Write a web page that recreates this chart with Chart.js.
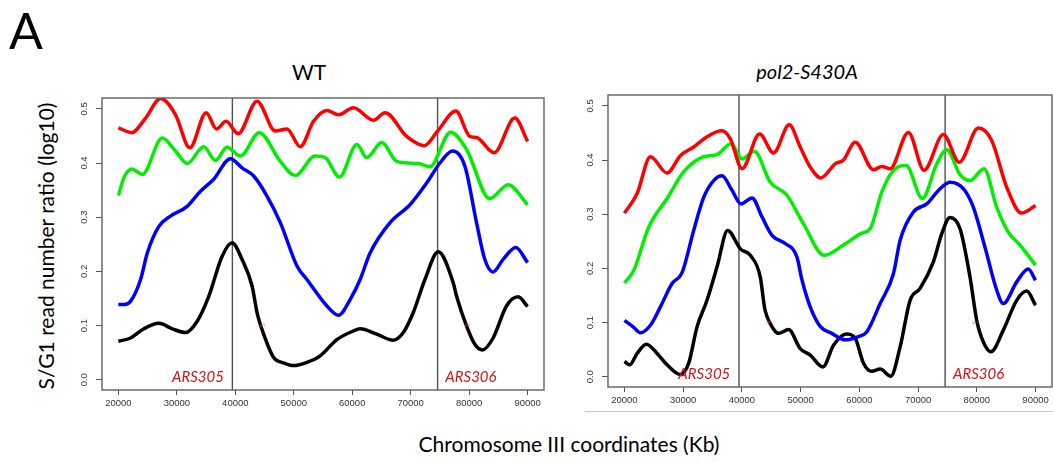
<!DOCTYPE html>
<html>
<head>
<meta charset="utf-8">
<title>S/G1 ratio, chromosome III</title>
<script src="https://cdn.jsdelivr.net/npm/chart.js@4.4.1/dist/chart.umd.min.js"></script>
<style>
  body { margin: 0; background: #fff; }
  #page { position: relative; width: 1053px; height: 462px; overflow: hidden; background: #fff; }
  #page canvas { position: absolute; }
  #wt { left: 60px; top: 90px; }
  #mut { left: 566px; top: 87px; }
  .lbl { position: absolute; white-space: nowrap; color: #000; font-family: Lato, "Open Sans", sans-serif;
         transform: translate(-50%, -50%); line-height: 1; }
  #panel-letter { left: 26px; top: 30px; font-size: 50px; }
  #title-wt { left: 309px; top: 71px; font-size: 21px; }
  #title-mut { left: 807px; top: 71px; font-size: 20px; font-style: italic; }
  #ylab { left: 45px; top: 246px; font-size: 21px; transform: translate(-50%, -50%) rotate(-90deg); }
  #xlab { left: 569px; top: 443px; font-size: 21px; }
  #rule { position: absolute; left: 585px; top: 411px; width: 468px; height: 0; border-top: 1px solid #c8c8c8; }
</style>
</head>
<body>
<div id="page">
  <div class="lbl" id="panel-letter">A</div>
  <div class="lbl" id="title-wt">WT</div>
  <div class="lbl" id="title-mut">pol2-S430A</div>
  <div class="lbl" id="ylab">S/G1 read number ratio (log10)</div>
  <div class="lbl" id="xlab">Chromosome III coordinates (Kb)</div>
  <div id="rule"></div>
  <canvas id="wt" width="500" height="330"></canvas>
  <canvas id="mut" width="487" height="330"></canvas>
</div>
<script>
// axis ticks and origin annotations (chromosome III coordinates, bp)
const xTicks = [20000, 30000, 40000, 50000, 60000, 70000, 80000, 90000];
const yTicks = [0, 0.1, 0.2, 0.3, 0.4, 0.5];
const arsNames = ["ARS305", "ARS306"];
const arsPos = [39500, 74600];
const arsLabelX = [33600, 80300];
const oriTagX = [44600, 79700];

// WT smoothed S/G1 ratios, [coordinate, log10 ratio]
const wtRed = [[20000,0.465],[22270,0.456],[24660,0.483],[27220,0.519],[29780,0.489],[32220,0.428],[35020,0.493],[36770,0.463],[38430,0.477],[40480,0.454],[43720,0.514],[46840,0.459],[48840,0.463],[51110,0.430],[53380,0.477],[55670,0.497],[57650,0.489],[60210,0.502],[63620,0.479],[65620,0.493],[69320,0.449],[72320,0.432],[74610,0.459],[77730,0.496],[80120,0.449],[81260,0.447],[84270,0.419],[87800,0.483],[90000,0.440]];
const wtGreen = [[20000,0.340],[20960,0.373],[22270,0.389],[24100,0.379],[27510,0.446],[29780,0.422],[31770,0.399],[34610,0.430],[36600,0.405],[38600,0.429],[40870,0.413],[44110,0.456],[47700,0.403],[50260,0.377],[53670,0.413],[55380,0.410],[57820,0.374],[60790,0.434],[62490,0.410],[65050,0.438],[67610,0.403],[71300,0.399],[73290,0.393],[76830,0.457],[79560,0.425],[83530,0.334],[86660,0.360],[90000,0.323]];
const wtBlue = [[20000,0.139],[21000,0.139],[22100,0.145],[23800,0.185],[24950,0.234],[26930,0.283],[28920,0.302],[31770,0.320],[34040,0.348],[36310,0.370],[39160,0.408],[41160,0.391],[43140,0.376],[45420,0.339],[47700,0.290],[50550,0.210],[52250,0.185],[55670,0.136],[57650,0.119],[59640,0.148],[61350,0.185],[63050,0.234],[66470,0.290],[69880,0.323],[72730,0.363],[75000,0.400],[77170,0.422],[79270,0.394],[81260,0.290],[82680,0.222],[84100,0.199],[85800,0.222],[87970,0.244],[90000,0.216]];
const wtBlack = [[20000,0.071],[22100,0.077],[24370,0.094],[26930,0.104],[29220,0.094],[31480,0.087],[33480,0.108],[35460,0.154],[37750,0.228],[39450,0.253],[41160,0.222],[42870,0.173],[43720,0.124],[44850,0.084],[46550,0.041],[48260,0.031],[49970,0.026],[52250,0.032],[54520,0.044],[57370,0.074],[60210,0.090],[61350,0.094],[64200,0.084],[67030,0.073],[68740,0.087],[70440,0.124],[72440,0.185],[74710,0.236],[77270,0.179],[77850,0.154],[79560,0.099],[81000,0.065],[82290,0.055],[84100,0.077],[86380,0.136],[88360,0.153],[90000,0.135]];

// pol2-S430A smoothed S/G1 ratios
const mutRed = [[20000,0.302],[22160,0.338],[24420,0.406],[27260,0.376],[29520,0.408],[31790,0.424],[34060,0.443],[36610,0.454],[38030,0.439],[40020,0.384],[43010,0.448],[45390,0.413],[48060,0.465],[49930,0.424],[51630,0.387],[53450,0.367],[55880,0.393],[57300,0.400],[59290,0.433],[62400,0.382],[63830,0.388],[65240,0.384],[68350,0.451],[71020,0.381],[74300,0.447],[77020,0.396],[80260,0.459],[82530,0.436],[85080,0.350],[87630,0.302],[90000,0.316]];
const mutGreen = [[20000,0.173],[21580,0.196],[24130,0.276],[27260,0.329],[30090,0.378],[33490,0.406],[35770,0.410],[38150,0.430],[40020,0.402],[42110,0.416],[44830,0.359],[47670,0.335],[50490,0.282],[54010,0.224],[57300,0.243],[60430,0.265],[61840,0.273],[63830,0.341],[65800,0.381],[67960,0.390],[70730,0.329],[73180,0.393],[74880,0.419],[77140,0.373],[78840,0.362],[81220,0.384],[83380,0.313],[85350,0.267],[87350,0.243],[90000,0.206]];
const mutBlue = [[20000,0.104],[21580,0.091],[22720,0.081],[24420,0.095],[26120,0.129],[28110,0.172],[29810,0.192],[31790,0.270],[33490,0.331],[35190,0.362],[36610,0.371],[38320,0.344],[39850,0.319],[41720,0.330],[43420,0.295],[45120,0.261],[47380,0.246],[49370,0.221],[50200,0.180],[51630,0.129],[53330,0.093],[55320,0.080],[57580,0.068],[59850,0.074],[61280,0.083],[63540,0.135],[65800,0.190],[66940,0.252],[69200,0.304],[71480,0.319],[73740,0.347],[75440,0.359],[77700,0.347],[79400,0.313],[81390,0.239],[83380,0.160],[84510,0.135],[86790,0.175],[88760,0.199],[90000,0.178]];
const mutBlack = [[20000,0.028],[20900,0.022],[22160,0.043],[23740,0.060],[25560,0.043],[27260,0.022],[29520,0.004],[30940,0.025],[32360,0.092],[34060,0.141],[35770,0.203],[37570,0.270],[39730,0.236],[41430,0.224],[43130,0.184],[43900,0.125],[44830,0.098],[46240,0.080],[47940,0.087],[49930,0.052],[51630,0.040],[53790,0.018],[55600,0.058],[57760,0.079],[59290,0.071],[60700,0.025],[62130,0.010],[63540,0.014],[65360,0.001],[66940,0.055],[68640,0.141],[70340,0.163],[72600,0.212],[74030,0.264],[75440,0.294],[77140,0.273],[78840,0.184],[79980,0.104],[81110,0.064],[82410,0.046],[84510,0.086],[86790,0.141],[88490,0.158],[90000,0.132]];

const lineColors = ["#ff0000", "#00ee00", "#0000ff", "#000000"];
const tickFont = { family: "'Liberation Sans', Arial, sans-serif", size: 9.5 };

// box, ARS lines, ARS names, rotated y tick labels
const panelDecor = {
  id: "panelDecor",
  beforeDatasetsDraw(chart) {
    const { ctx, chartArea: a, scales: { x } } = chart;
    ctx.save();
    ctx.strokeStyle = "#505050";
    ctx.lineWidth = 1.4;
    arsPos.forEach((p) => {
      const px = x.getPixelForValue(p);
      ctx.beginPath();
      ctx.moveTo(px, a.top);
      ctx.lineTo(px, a.bottom);
      ctx.stroke();
    });
    ctx.restore();
  },
  afterDatasetsDraw(chart) {
    const { ctx, scales: { x, y } } = chart;
    ctx.save();
    ctx.fillStyle = "#d01414";
    ctx.font = "italic 15px Lato, 'Open Sans', sans-serif";
    ctx.textAlign = "center";
    ctx.textBaseline = "middle";
    arsNames.forEach((name, i) => {
      ctx.fillText(name, x.getPixelForValue(arsLabelX[i]), y.getPixelForValue(0.005));
    });
    ctx.fillStyle = "rgba(220, 80, 120, 0.8)";
    ctx.font = "5px sans-serif";
    oriTagX.forEach((v) => {
      ctx.fillText("ori", x.getPixelForValue(v), y.getPixelForValue(0.1));
    });
    ctx.restore();
  },
  afterDraw(chart) {
    const { ctx, chartArea: a, scales: { y } } = chart;
    ctx.save();
    ctx.strokeStyle = "#606060";
    ctx.lineWidth = 1.4;
    ctx.strokeRect(a.left, a.top, a.right - a.left, a.bottom - a.top);
    ctx.fillStyle = "#333";
    ctx.font = `${tickFont.size}px ${tickFont.family}`;
    ctx.textAlign = "center";
    ctx.textBaseline = "middle";
    yTicks.forEach((v) => {
      ctx.save();
      ctx.translate(a.left - 17.5, y.getPixelForValue(v));
      ctx.rotate(-Math.PI / 2);
      ctx.fillText(v.toFixed(1), 0, 0);
      ctx.restore();
    });
    ctx.restore();
  },
};

function makePanel(id, series, rightPad) {
  const datasets = series.map((pts, i) => ({
    data: pts.map(([x, y]) => ({ x, y })),
    borderColor: lineColors[i],
    borderWidth: 3.5,
    pointRadius: 0,
    showLine: true,
    fill: false,
    cubicInterpolationMode: "monotone",
  }));

  new Chart(document.getElementById(id), {
    type: "scatter",
    data: { datasets },
    options: {
      responsive: false,
      animation: false,
      devicePixelRatio: 1,
      layout: { padding: { top: 8, right: rightPad, left: 0, bottom: 0 } },
      plugins: { legend: { display: false }, tooltip: { enabled: false } },
      scales: {
        x: {
          type: "linear",
          min: 17200,
          max: 92800,
          afterFit: (s) => { s.height = 30; },
          afterBuildTicks: (s) => { s.ticks = xTicks.map((value) => ({ value })); },
          border: { display: false },
          grid: { display: true, drawOnChartArea: false, drawTicks: true, tickLength: 5, color: "#555", lineWidth: 1 },
          ticks: { font: tickFont, color: "#333", padding: 3, maxRotation: 0, autoSkip: false, callback: (v) => String(v) },
        },
        y: {
          type: "linear",
          min: -0.019,
          max: 0.52,
          afterFit: (s) => { s.width = 42; },
          afterBuildTicks: (s) => { s.ticks = yTicks.map((value) => ({ value })); },
          border: { display: false },
          grid: { display: true, drawOnChartArea: false, drawTicks: true, tickLength: 6, color: "#555", lineWidth: 1 },
          ticks: { display: false },
        },
      },
    },
    plugins: [panelDecor],
  });
}

makePanel("wt", [wtRed, wtGreen, wtBlue, wtBlack], 16);
makePanel("mut", [mutRed, mutGreen, mutBlue, mutBlack], 1);
</script>
</body>
</html>
